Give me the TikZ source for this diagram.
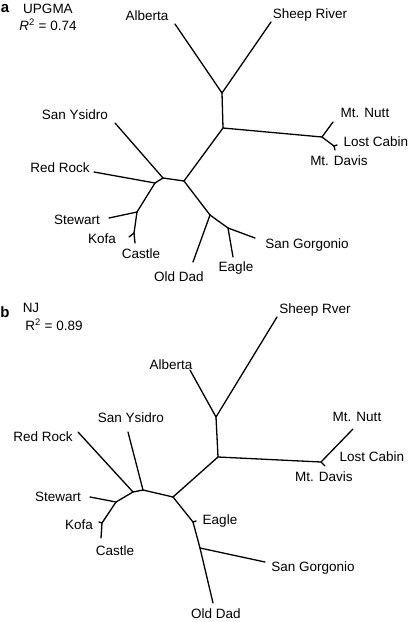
\documentclass[tikz,border=0pt]{standalone}
\usepackage{fontspec}
\setmainfont{Liberation Sans}
\usepackage{tikz}

\begin{document}
\begin{tikzpicture}[x=1pt,y=-1pt,
  branch/.style={line width=1.3pt,line cap=round,line join=round},
  taxon/.style={inner sep=0pt,font=\fontsize{13.5}{15}\selectfont},
  panel/.style={inner sep=0pt,font=\fontsize{15}{17}\selectfont\bfseries}]
\useasboundingbox (0,0) rectangle (409,622);

% panel a: UPGMA
\node[panel] (pa) at (5,9) {a};
\node[taxon] (upgma) at (48,9) {UPGMA};
\node[taxon] (rsqA) at (48,25) {\textit{R}\textsuperscript{2} = 0.74};

\node[taxon] (albertaA) at (147,16) {Alberta};
\node[taxon] (sheepA) at (310,15) {Sheep River};
\node[taxon] (nuttA) at (365,113) {Mt. Nutt};
\node[taxon] (lostA) at (376,142) {Lost Cabin};
\node[taxon] (davisA) at (339,161) {Mt. Davis};
\node[taxon] (ysidroA) at (75,115) {San Ysidro};
\node[taxon] (redA) at (60,168) {Red Rock};
\node[taxon] (stewartA) at (77,220) {Stewart};
\node[taxon] (kofaA) at (102,239) {Kofa};
\node[taxon] (castleA) at (141,254) {Castle};
\node[taxon] (olddadA) at (179,277) {Old Dad};
\node[taxon] (eagleA) at (236,268) {Eagle};
\node[taxon] (gorgA) at (307,245) {San Gorgonio};

\coordinate (aAlb) at (175,24);
\coordinate (aShp) at (271,22);
\coordinate (aN1) at (222,93);
\coordinate (aN2) at (223,128);
\coordinate (aMt) at (322,137);
\coordinate (aNutt) at (333,122);
\coordinate (aLC) at (334,146);
\coordinate (aLost) at (337,145);
\coordinate (aDav) at (335,150);
\coordinate (aC1) at (184,181);
\coordinate (aC2) at (163,178);
\coordinate (aYs) at (115,123);
\coordinate (aC3) at (155,183);
\coordinate (aRed) at (94,172);
\coordinate (aStN) at (137,212);
\coordinate (aStw) at (109,218);
\coordinate (aKN) at (134,233);
\coordinate (aKofa) at (129,237);
\coordinate (aCast) at (135,243);
\coordinate (aD) at (210,215);
\coordinate (aOld) at (193,262);
\coordinate (aE) at (228,228);
\coordinate (aEag) at (233,257);
\coordinate (aSG) at (255,238);

\foreach \u/\v in {aAlb/aN1,aShp/aN1,aN1/aN2,aN2/aMt,aMt/aNutt,aMt/aLC,
    aLC/aLost,aLC/aDav,aN2/aC1,aC1/aC2,aC2/aYs,aC2/aC3,aC3/aRed,aC3/aStN,
    aStN/aStw,aStN/aKN,aKN/aKofa,aKN/aCast,aC1/aD,aD/aOld,aD/aE,aE/aEag,aE/aSG}
  \draw[branch] (\u) -- (\v);

% panel b: NJ
\node[panel] (pb) at (5,312) {b};
\node[taxon] (nj) at (31,308) {NJ};
\node[taxon] (rsqB) at (54,325) {R\textsuperscript{2} = 0.89};

\node[taxon] (albertaB) at (171,365) {Alberta};
\node[taxon] (sheepB) at (315,310) {Sheep Rver};
\node[taxon] (nuttB) at (357,417) {Mt. Nutt};
\node[taxon] (lostB) at (372,457) {Lost Cabin};
\node[taxon] (davisB) at (324,477) {Mt. Davis};
\node[taxon] (ysidroB) at (131,418) {San Ysidro};
\node[taxon] (redB) at (43,437) {Red Rock};
\node[taxon] (stewartB) at (58,497) {Stewart};
\node[taxon] (kofaB) at (79,525) {Kofa};
\node[taxon] (castleB) at (115,551) {Castle};
\node[taxon] (eagleB) at (220,521) {Eagle};
\node[taxon] (gorgB) at (313,568) {San Gorgonio};
\node[taxon] (olddadB) at (216,614) {Old Dad};

\coordinate (bAlb) at (190,370);
\coordinate (bShp) at (277,317);
\coordinate (bN1) at (216,417);
\coordinate (bN2) at (218,457);
\coordinate (bMt) at (321,462);
\coordinate (bNutt) at (353,429);
\coordinate (bDav) at (325,466);
\coordinate (bC1) at (173,497);
\coordinate (bC2) at (143,490);
\coordinate (bYs) at (128,432);
\coordinate (bC3) at (133,492);
\coordinate (bRed) at (78,432);
\coordinate (bStN) at (116,502);
\coordinate (bStw) at (90,497);
\coordinate (bKN) at (102,523);
\coordinate (bKofa) at (99,522);
\coordinate (bCast) at (101,538);
\coordinate (bEN) at (193,522);
\coordinate (bEag) at (196,521);
\coordinate (bD) at (200,548);
\coordinate (bSG) at (265,562);
\coordinate (bOld) at (213,603);

\foreach \u/\v in {bAlb/bN1,bShp/bN1,bN1/bN2,bN2/bMt,bMt/bNutt,bMt/bDav,
    bN2/bC1,bC1/bC2,bC2/bYs,bC2/bC3,bC3/bRed,bC3/bStN,bStN/bStw,bStN/bKN,
    bKN/bKofa,bKN/bCast,bC1/bEN,bEN/bEag,bEN/bD,bD/bSG,bD/bOld}
  \draw[branch] (\u) -- (\v);
\end{tikzpicture}
\end{document}
